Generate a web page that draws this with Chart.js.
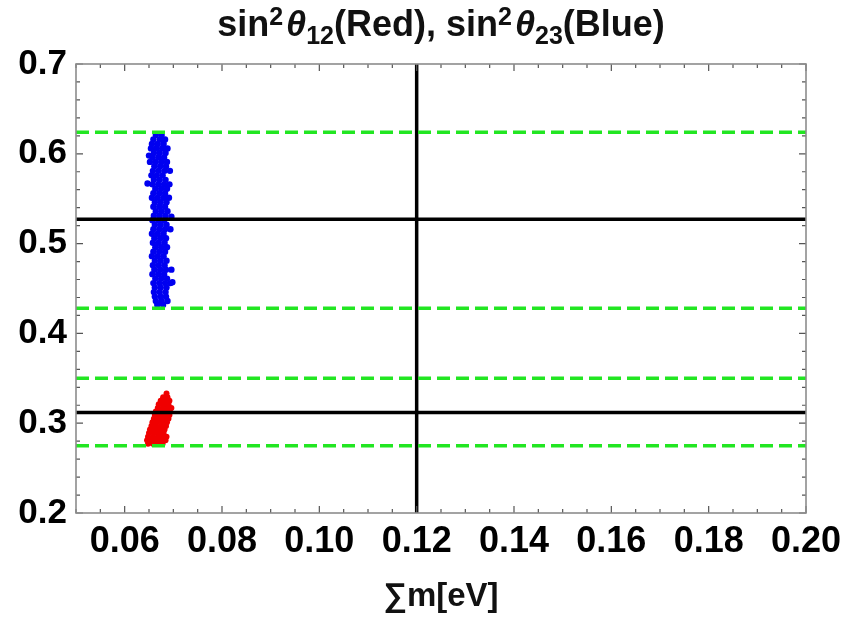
<!DOCTYPE html>
<html lang="en">
<head>
    <meta charset="UTF-8">
    <title>sin2 theta12 / theta23 vs sum m</title>
    <script src="https://cdn.jsdelivr.net/npm/chart.js"></script>
    <style>
        body { margin: 0; background: #fff; }
        #wrap { position: relative; width: 845px; height: 623px; }
        #title {
            position: absolute; left: 0; width: 882px; top: 3px; line-height: 42px;
            text-align: center; font: bold 36px 'Liberation Sans', Arial, sans-serif; color: #111;
            white-space: nowrap;
        }
        #title sup { font-size: 25px; vertical-align: 11px; line-height: 0; }
        #title sub { font-size: 25px; vertical-align: -8px; line-height: 0; }
        #title i { margin-left: 3px; }
    </style>
</head>
<body>
<div id="wrap">
    <canvas id="chart" width="845" height="623"></canvas>
    <div id="title">sin<sup>2</sup><i>θ</i><sub>12</sub>(Red), sin<sup>2</sup><i>θ</i><sub>23</sub>(Blue)</div>
</div>

<script>
// tick labels
const xTicks = [0.06, 0.08, 0.10, 0.12, 0.14, 0.16, 0.18, 0.20];
const yTicks = [0.2, 0.3, 0.4, 0.5, 0.6, 0.7];

// reference lines
const greenLevels = [0.624, 0.428, 0.350, 0.275];
const blackLevels = [0.527, 0.312];
const blackX = 0.12;

// sin^2 theta23 points [sum m, value]
const bluePoints = [
    [0.0664, 0.621], [0.0676, 0.621],
    [0.0659, 0.616], [0.0672, 0.616], [0.0683, 0.616],
    [0.0656, 0.611], [0.0668, 0.611], [0.0680, 0.611],
    [0.0654, 0.606], [0.0665, 0.606], [0.0677, 0.606], [0.0688, 0.606],
    [0.0660, 0.601], [0.0672, 0.601], [0.0684, 0.601],
    [0.0657, 0.596], [0.0669, 0.596], [0.0681, 0.596],
    [0.0652, 0.591], [0.0664, 0.591], [0.0676, 0.591], [0.0687, 0.591],
    [0.0661, 0.586], [0.0673, 0.586], [0.0685, 0.586],
    [0.0658, 0.581], [0.0670, 0.581], [0.0682, 0.581], [0.0693, 0.581],
    [0.0655, 0.576], [0.0666, 0.576], [0.0678, 0.576],
    [0.0660, 0.571], [0.0672, 0.571], [0.0684, 0.571],
    [0.0657, 0.566], [0.0669, 0.566], [0.0681, 0.566], [0.0692, 0.566],
    [0.0663, 0.561], [0.0675, 0.561], [0.0687, 0.561],
    [0.0659, 0.556], [0.0671, 0.556], [0.0683, 0.556],
    [0.0656, 0.551], [0.0668, 0.551], [0.0680, 0.551], [0.0691, 0.551],
    [0.0662, 0.546], [0.0674, 0.546], [0.0686, 0.546],
    [0.0659, 0.541], [0.0671, 0.541], [0.0683, 0.541],
    [0.0664, 0.536], [0.0676, 0.536], [0.0688, 0.536],
    [0.0660, 0.531], [0.0672, 0.531], [0.0684, 0.531],
    [0.0657, 0.526], [0.0669, 0.526], [0.0681, 0.526],
    [0.0662, 0.521], [0.0674, 0.521], [0.0686, 0.521],
    [0.0659, 0.516], [0.0671, 0.516], [0.0683, 0.516], [0.0694, 0.516],
    [0.0656, 0.511], [0.0668, 0.511], [0.0680, 0.511],
    [0.0661, 0.506], [0.0673, 0.506], [0.0685, 0.506],
    [0.0658, 0.501], [0.0670, 0.501], [0.0682, 0.501],
    [0.0663, 0.496], [0.0675, 0.496], [0.0687, 0.496],
    [0.0659, 0.491], [0.0671, 0.491], [0.0683, 0.491],
    [0.0656, 0.486], [0.0668, 0.486], [0.0680, 0.486],
    [0.0662, 0.481], [0.0674, 0.481], [0.0686, 0.481],
    [0.0658, 0.476], [0.0670, 0.476], [0.0682, 0.476],
    [0.0661, 0.471], [0.0673, 0.471], [0.0685, 0.471], [0.0696, 0.471],
    [0.0657, 0.466], [0.0669, 0.466], [0.0681, 0.466],
    [0.0663, 0.461], [0.0675, 0.461], [0.0687, 0.461],
    [0.0659, 0.456], [0.0671, 0.456], [0.0683, 0.456], [0.0694, 0.456],
    [0.0662, 0.451], [0.0674, 0.451], [0.0686, 0.451],
    [0.0660, 0.446], [0.0672, 0.446], [0.0684, 0.446],
    [0.0662, 0.441], [0.0674, 0.441], [0.0685, 0.441],
    [0.0664, 0.436], [0.0676, 0.436], [0.0688, 0.436],
    [0.0667, 0.432], [0.0679, 0.432],
    [0.0647, 0.567], [0.0650, 0.598], [0.0698, 0.457], [0.0696, 0.530]
];

// sin^2 theta12 points [sum m, value]
const redPoints = [
    [0.0686, 0.333],
    [0.0679, 0.329], [0.0688, 0.329],
    [0.0674, 0.325], [0.0684, 0.325], [0.0692, 0.325],
    [0.0670, 0.321], [0.0680, 0.321], [0.0690, 0.321],
    [0.0668, 0.317], [0.0678, 0.317], [0.0688, 0.317], [0.0696, 0.317],
    [0.0664, 0.313], [0.0674, 0.313], [0.0684, 0.313], [0.0693, 0.313],
    [0.0662, 0.309], [0.0672, 0.309], [0.0682, 0.309], [0.0692, 0.309],
    [0.0660, 0.305], [0.0670, 0.305], [0.0680, 0.305], [0.0690, 0.305],
    [0.0657, 0.301], [0.0667, 0.301], [0.0677, 0.301], [0.0687, 0.301],
    [0.0655, 0.297], [0.0665, 0.297], [0.0675, 0.297], [0.0685, 0.297],
    [0.0652, 0.293], [0.0662, 0.293], [0.0672, 0.293], [0.0682, 0.293],
    [0.0650, 0.289], [0.0660, 0.289], [0.0670, 0.289], [0.0680, 0.289],
    [0.0648, 0.285], [0.0658, 0.285], [0.0668, 0.285], [0.0678, 0.285], [0.0686, 0.285],
    [0.0646, 0.281], [0.0656, 0.281], [0.0666, 0.281], [0.0676, 0.281], [0.0684, 0.281],
    [0.0648, 0.277], [0.0658, 0.277], [0.0668, 0.277], [0.0678, 0.277]
];

const xMin = 0.05, xMax = 0.20, yMin = 0.2, yMax = 0.7;
const font = "'Liberation Sans', Arial, sans-serif";

function hLine(y, color, dash) {
    return {
        type: 'line', data: [{ x: xMin, y: y }, { x: xMax, y: y }],
        borderColor: color, borderWidth: 3.5, borderDash: dash, pointRadius: 0, order: 0
    };
}

const datasets = [
    {
        type: 'scatter', data: bluePoints.map(p => ({ x: p[0], y: p[1] })),
        backgroundColor: '#0000f0', borderWidth: 0, pointRadius: 3.2, order: 2
    },
    {
        type: 'scatter', data: redPoints.map(p => ({ x: p[0], y: p[1] })),
        backgroundColor: '#f00000', borderWidth: 0, pointRadius: 3.0, order: 2
    }
];
greenLevels.forEach(v => datasets.push(hLine(v, '#22e622', [13, 6])));
blackLevels.forEach(v => datasets.push(hLine(v, '#000', [])));
datasets.push({
    type: 'line', data: [{ x: blackX, y: yMin }, { x: blackX, y: yMax }],
    borderColor: '#000', borderWidth: 3.5, pointRadius: 0, order: 0
});

// frame with inward ticks, like the original
const frameTicks = {
    id: 'frameTicks',
    afterDatasetsDraw(chart) {
        const { ctx, chartArea: a, scales: { x, y } } = chart;
        ctx.save();
        ctx.strokeStyle = '#555';
        ctx.lineWidth = 1.2;
        for (let i = 0; i <= 30; i++) {
            const v = xMin + i * 0.005;
            const px = x.getPixelForValue(v);
            const len = (Math.abs(v * 50 - Math.round(v * 50)) < 1e-6) ? 7 : 4;
            ctx.beginPath();
            ctx.moveTo(px, a.bottom); ctx.lineTo(px, a.bottom - len);
            ctx.moveTo(px, a.top); ctx.lineTo(px, a.top + len);
            ctx.stroke();
        }
        for (let i = 0; i <= 25; i++) {
            const v = yMin + i * 0.02;
            const py = y.getPixelForValue(v);
            const len = (i % 5 === 0) ? 7 : 4;
            ctx.beginPath();
            ctx.moveTo(a.left, py); ctx.lineTo(a.left + len, py);
            ctx.moveTo(a.right, py); ctx.lineTo(a.right - len, py);
            ctx.stroke();
        }
        ctx.strokeStyle = '#8c8c8c';
        ctx.lineWidth = 1.6;
        ctx.strokeRect(a.left, a.top, a.right - a.left, a.bottom - a.top);
        ctx.restore();
    }
};

new Chart(document.getElementById('chart'), {
    data: { datasets: datasets },
    options: {
        responsive: false,
        animation: false,
        devicePixelRatio: 1,
        layout: { padding: { top: 64, right: 39, left: 0, bottom: 0 } },
        plugins: { legend: { display: false }, tooltip: { enabled: false } },
        scales: {
            x: {
                type: 'linear', min: xMin, max: xMax,
                afterBuildTicks: s => { s.ticks = xTicks.map(v => ({ value: v })); },
                afterFit: s => { s.height = 110; s.paddingLeft = 0; s.paddingRight = 0; },
                grid: { display: false, drawTicks: false },
                border: { display: false },
                ticks: {
                    padding: 7, color: '#000', maxRotation: 0,
                    font: { family: font, size: 36, weight: 'bold' },
                    callback: v => v.toFixed(2)
                },
                title: {
                    display: true, text: '∑m[eV]', color: '#111',
                    font: { family: font, size: 33, weight: 'bold' },
                    padding: { top: 0, bottom: 6 }
                }
            },
            y: {
                type: 'linear', min: yMin, max: yMax,
                afterBuildTicks: s => { s.ticks = yTicks.map(v => ({ value: v })); },
                afterFit: s => { s.width = 76; s.paddingTop = 0; s.paddingBottom = 0; },
                grid: { display: false, drawTicks: false },
                border: { display: false },
                ticks: {
                    padding: 9, color: '#000',
                    font: { family: font, size: 35, weight: 'bold' },
                    callback: v => v.toFixed(1)
                }
            }
        }
    },
    plugins: [frameTicks]
});
</script>
</body>
</html>
